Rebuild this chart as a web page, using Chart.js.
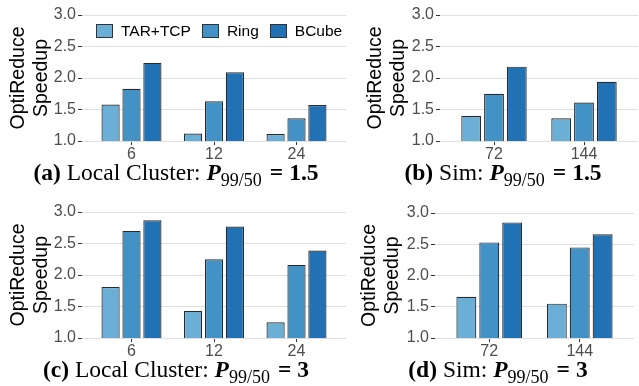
<!DOCTYPE html>
<html lang="en">
  <head>
    <meta charset="UTF-8" />
    <title>OptiReduce Speedup</title>
    <script src="https://cdn.jsdelivr.net/npm/chart.js@4"></script>
    <style>
      body { margin: 0; background: #fff; }
      #figure { position: relative; width: 639px; height: 386px; overflow: hidden; }
      .panel { position: absolute; }
      .caption {
        position: absolute;
        transform: translateX(-50%);
        white-space: nowrap;
        font-family: "Liberation Serif", "Times New Roman", serif;
        font-size: 23.5px;
        line-height: 1;
        color: #000;
      }
      .caption sub { font-size: 18px; vertical-align: -6px; line-height: 0; }
      .caption .eq { margin: 0 6px 0 8px; }
      #legend {
        position: absolute;
        left: 96px;
        top: 22px;
        display: flex;
        align-items: center;
        font-family: "Liberation Sans", Arial, sans-serif;
        font-size: 15.5px;
        color: #000;
      }
      .legend-item { display: flex; align-items: center; margin-right: 11px; }
      .legend-box { width: 15px; height: 12px; border: 1px solid #333; margin-right: 8px; }
    </style>
  </head>
  <body>
    <div id="figure">
      <canvas id="chartA" class="panel" width="348" height="165" style="left:0;top:0"></canvas>
      <canvas id="chartB" class="panel" width="293" height="165" style="left:346px;top:0"></canvas>
      <canvas id="chartC" class="panel" width="348" height="165" style="left:0;top:197px"></canvas>
      <canvas id="chartD" class="panel" width="293" height="165" style="left:346px;top:197px"></canvas>
      <div id="legend"></div>
      <div class="caption" style="left:176px;top:161px"><b>(a)</b> Local Cluster: <b><i>P</i></b><sub>99/50</sub><b class="eq">=</b><b>1.5</b></div>
      <div class="caption" style="left:503px;top:161px"><b>(b)</b> Sim: <b><i>P</i></b><sub>99/50</sub><b class="eq">=</b><b>1.5</b></div>
      <div class="caption" style="left:176px;top:358px"><b>(c)</b> Local Cluster: <b><i>P</i></b><sub>99/50</sub><b class="eq">=</b><b>3</b></div>
      <div class="caption" style="left:498px;top:358px"><b>(d)</b> Sim: <b><i>P</i></b><sub>99/50</sub><b class="eq">=</b><b>3</b></div>
    </div>

    <script>
      // series + categories
      const seriesNames = ["TAR+TCP", "Ring", "BCube"];
      const seriesColors = ["#6baed6", "#4292c6", "#2171b5"];
      const localNodes = ["6", "12", "24"];
      const simNodes = ["72", "144"];
      const yTicks = [1.0, 1.5, 2.0, 2.5, 3.0];

      // (a) local cluster, P99/50 = 1.5
      const localLowTar = [1.58, 1.12, 1.11];
      const localLowRing = [1.83, 1.63, 1.36];
      const localLowBcube = [2.24, 2.09, 1.57];
      // (b) sim, P99/50 = 1.5
      const simLowTar = [1.4, 1.36];
      const simLowRing = [1.75, 1.61];
      const simLowBcube = [2.18, 1.94];
      // (c) local cluster, P99/50 = 3
      const localHighTar = [1.81, 1.43, 1.25];
      const localHighRing = [2.7, 2.25, 2.16];
      const localHighBcube = [2.87, 2.77, 2.39];
      // (d) sim, P99/50 = 3
      const simHighTar = [1.66, 1.55];
      const simHighRing = [2.53, 2.45];
      const simHighBcube = [2.85, 2.66];

      Chart.defaults.font.family = "'Liberation Sans', Arial, sans-serif";
      Chart.defaults.animation = false;

      function makePanel(id, cats, values, spec) {
        const datasets = values.map((vals, s) => ({
          label: seriesNames[s],
          data: vals.map((v, i) => ({ x: i + 1, y: v })),
          backgroundColor: seriesColors[s],
          borderColor: "#2a2a2a",
          borderWidth: 1.2,
          categoryPercentage: 0.76,
          barPercentage: 0.87,
        }));

        new Chart(document.getElementById(id), {
          type: "bar",
          data: { datasets },
          options: {
            responsive: false,
            layout: { padding: { top: spec.padTop, right: spec.padRight, left: 0, bottom: 0 } },
            plugins: { legend: { display: false }, tooltip: { enabled: false } },
            scales: {
              x: {
                type: "linear",
                min: 0.4,
                max: cats.length + 0.6,
                offset: false,
                afterBuildTicks: (axis) => {
                  axis.ticks = cats.map((c, i) => ({ value: i + 1 }));
                },
                afterFit: (axis) => {
                  axis.height = spec.xHeight;
                },
                ticks: {
                  color: "#4d4d4d",
                  font: { size: 16 },
                  padding: 0,
                  maxRotation: 0,
                  autoSkip: false,
                  callback: (v) => cats[Math.round(v) - 1],
                },
                grid: { offset: false, drawOnChartArea: false, tickColor: "#333", tickLength: 4 },
                border: { display: false },
              },
              y: {
                min: 1,
                max: 3,
                afterBuildTicks: (axis) => {
                  axis.ticks = yTicks.map((v) => ({ value: v }));
                },
                afterFit: (axis) => {
                  axis.width = spec.yWidth;
                },
                ticks: {
                  color: "#4d4d4d",
                  font: { size: 16 },
                  padding: 2,
                  callback: (v) => v.toFixed(1),
                },
                grid: { color: "#e0e0e0", tickColor: "#333", tickLength: 4 },
                border: { display: false },
                title: {
                  display: true,
                  text: ["OptiReduce", "Speedup"],
                  color: "#000",
                  font: { size: 19.5 },
                  padding: { top: spec.titlePad, bottom: 0 },
                },
              },
            },
          },
        });
      }

      makePanel("chartA", localNodes, [localLowTar, localLowRing, localLowBcube],
        { yWidth: 82, padRight: 2, padTop: 15, xHeight: 24, titlePad: 6.5 });
      makePanel("chartB", simNodes, [simLowTar, simLowRing, simLowBcube],
        { yWidth: 94, padRight: 1, padTop: 15, xHeight: 24, titlePad: 17.5 });
      makePanel("chartC", localNodes, [localHighTar, localHighRing, localHighBcube],
        { yWidth: 82, padRight: 2, padTop: 15, xHeight: 24, titlePad: 6.5 });
      makePanel("chartD", simNodes, [simHighTar, simHighRing, simHighBcube],
        { yWidth: 89, padRight: 5, padTop: 16, xHeight: 24, titlePad: 11.5 });

      // legend inside panel (a)
      const legend = document.getElementById("legend");
      seriesNames.forEach((name, i) => {
        const item = document.createElement("div");
        item.className = "legend-item";
        item.innerHTML = `<span class="legend-box" style="background:${seriesColors[i]}"></span><span>${name}</span>`;
        legend.appendChild(item);
      });
    </script>
  </body>
</html>
